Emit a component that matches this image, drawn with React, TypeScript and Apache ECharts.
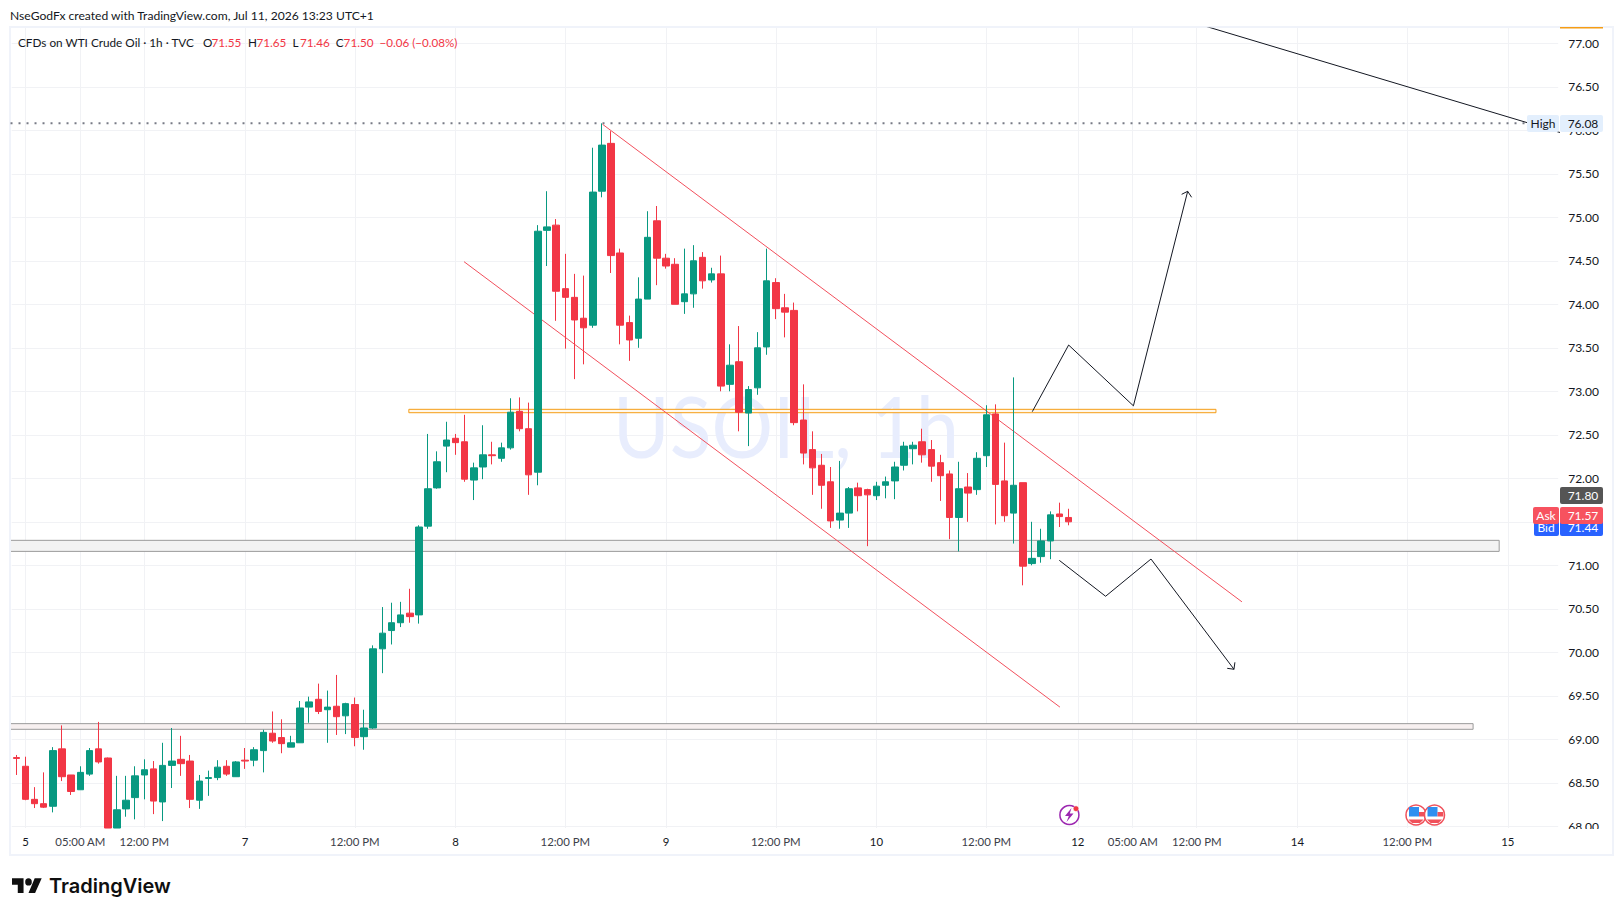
import React, { useEffect, useRef } from "react";
import * as echarts from "echarts";

const opens = [68.79,68.69,68.31,68.26,68.23,68.89,68.59,68.42,68.60,68.89,
68.785,67.98,68.20,68.33,68.59,68.66,68.28,68.70,68.77,68.75,
68.30,68.55,68.56,68.69,68.57,68.76,68.76,68.87,69.07,69.02,
68.91,68.96,69.37,69.46,69.34,69.38,69.27,69.40,69.03,69.13,
70.04,70.25,70.34,70.45,70.43,71.45,71.89,72.37,72.46,72.42,
71.98,72.13,72.27,72.23,72.35,72.77,72.57,72.07,74.85,74.91,
74.18,74.08,73.84,73.76,75.30,75.85,74.59,73.79,73.61,74.06,
74.96,74.53,74.46,74.03,74.12,74.54,74.28,74.35,73.08,73.34,
72.75,73.04,73.51,74.25,73.96,73.93,72.67,72.33,72.15,71.96,
71.52,71.60,71.89,71.87,71.80,71.92,71.97,72.15,72.34,72.42,
72.33,72.18,72.05,71.55,71.90,71.87,72.26,72.74,71.97,71.60,
71.95,71.02,71.10,71.28,71.59,71.55];
const closes = [68.78,68.31,68.26,68.22,68.87,68.57,68.40,68.62,68.87,68.74,
67.98,68.19,68.30,68.58,68.65,68.29,68.70,68.75,68.72,68.31,
68.52,68.56,68.68,68.60,68.74,68.75,68.88,69.08,68.98,68.95,
68.96,69.36,69.43,69.32,69.37,69.26,69.41,69.02,69.13,70.04,
70.22,70.34,70.43,70.41,71.44,71.88,72.19,72.44,72.41,71.99,
72.12,72.27,72.26,72.35,72.76,72.57,72.04,74.84,74.89,74.15,
74.08,73.82,73.73,75.29,75.83,74.56,73.76,73.59,74.06,74.77,
74.53,74.44,74.00,74.12,74.50,74.27,74.35,73.06,73.30,72.76,
73.02,73.50,74.27,73.95,73.91,72.64,72.29,72.12,71.92,71.51,
71.60,71.88,71.80,71.81,71.91,71.96,72.13,72.37,72.38,72.27,
72.14,72.03,71.55,71.88,71.83,72.23,72.73,71.93,71.57,71.92,
70.99,71.08,71.28,71.58,71.56,71.50];
const highs = [68.82,68.80,68.45,68.62,68.91,69.16,68.59,68.69,68.90,69.20,
68.79,68.58,68.58,68.69,68.77,68.75,68.96,69.13,69.04,68.82,
68.59,68.64,68.76,68.76,68.75,68.90,68.91,69.11,69.32,69.23,
69.04,69.44,69.49,69.64,69.56,69.74,69.42,69.48,69.34,70.08,
70.52,70.57,70.58,70.73,71.46,72.51,72.31,72.65,72.51,72.73,
72.18,72.61,72.42,72.41,72.92,72.93,72.87,74.91,75.30,74.98,
74.58,74.35,74.33,75.80,76.08,75.99,74.64,73.87,74.31,75.07,
75.13,74.58,74.53,74.64,74.68,74.60,74.42,74.56,73.54,73.75,
73.06,73.68,74.64,74.30,74.12,74.02,73.08,72.54,72.28,72.13,
72.20,71.90,71.95,71.88,71.96,72.02,72.19,72.42,72.42,72.57,
72.44,72.27,72.09,72.19,72.06,72.30,72.84,72.85,72.41,73.16,
71.95,71.50,71.42,71.62,71.72,71.65];
const lows = [68.59,68.30,68.21,68.21,68.16,68.52,68.36,68.42,68.58,68.72,
67.98,67.98,68.11,68.08,68.31,68.14,68.06,68.44,68.58,68.21,
68.20,68.35,68.53,68.58,68.57,68.66,68.69,68.62,68.96,68.84,
68.91,68.96,69.19,69.29,68.96,69.05,69.06,68.92,68.88,69.12,
69.76,70.09,70.29,70.34,70.33,71.42,71.88,72.07,72.27,71.96,
71.75,71.99,72.16,72.19,72.33,72.54,71.81,71.92,74.44,73.81,
73.49,73.14,73.31,73.73,75.23,74.36,73.54,73.35,73.50,74.06,
74.22,74.41,74.00,73.89,73.96,74.18,74.25,73.00,73.00,72.54,
72.37,72.96,73.42,73.83,73.62,72.61,72.16,71.81,71.65,71.43,
71.42,71.43,71.62,71.22,71.75,71.77,71.76,72.09,72.16,72.18,
71.96,71.74,71.30,71.16,71.50,71.81,72.13,71.47,71.50,71.25,
70.77,71.00,71.03,71.07,71.44,71.46];

const slotCount = 169;
const tickIndex = [1,7,14,25,37,48,60,71,83,94,106,116,122,129,140,152,163];
const tickLabels = ["5","05:00 AM","12:00 PM","7","12:00 PM","8","12:00 PM","9","12:00 PM","10","12:00 PM","12","05:00 AM","12:00 PM","14","12:00 PM","15"];
const dateTicks = ["5","7","8","9","10","12","14","15"];
const priceTicks = [68,68.5,69,69.5,70,70.5,71,71.5,72,72.5,73,73.5,74,74.5,75,75.5,76,76.5,77];

const highLevel = 76.08;
const highLine = [[-5,highLevel],[165.1,highLevel]];
const channelUpper = [[64.06,76.07],[133.94,70.58]];
const channelLower = [[48.93,74.49],[114.05,69.37]];
const pathUp = [[111.03,72.766],[115.0,73.532],[122.08,72.833],[128.01,75.299]];
const arrowUp = [[127.35,75.264],[128.01,75.299],[128.44,75.23]];
const pathDown = [[113.98,71.057],[119.04,70.644],[124.0,71.072],[133.07,69.805]];
const arrowDown = [[132.33,69.816],[133.07,69.805],[133.17,69.885]];
const topTrend = [[128.26,77.25],[169.8,75.94]];
// [x0, x1, priceTop, priceBottom]
const zones = [
  [42.9,131.1,72.793,72.754],
  [-5,162.05,71.287,71.16],
  [-5,159.2,69.18,69.115],
];
const zoneFill = ["#fff8ec","#f3f3f3","#f7f0f0"];
const zoneStroke = ["#f59d16","#9a9a9a","#9a9a9a"];

const FONT = 'Lato, "Open Sans", sans-serif';
const GREEN = "#089981";
const RED = "#f23645";
const INK = "#131722";

const txt = (text: string, x: number, y: number, fill = INK, size = 12, align = "left", extra: any = {}) => ({
  type: "text",
  x, y, z: 200,
  silent: true,
  style: { text, fill, font: `${size}px ${FONT}`, textAlign: align, textVerticalAlign: "middle", ...extra },
});
const box = (x: number, y: number, w: number, h: number, fill: string, z = 150) => ({
  type: "rect", z, silent: true,
  shape: { x, y, width: w, height: h, r: 2 },
  style: { fill },
});

function flag(cx: number, cy: number) {
  return [
    { type: "circle", z: 120, shape: { cx, cy, r: 10 }, style: { fill: "#fff", stroke: "#f0505a", lineWidth: 1.5 } },
    { type: "rect", z: 121, shape: { x: cx - 7, y: cy - 8, width: 10, height: 9.5 }, style: { fill: "#2f8ff0" } },
    { type: "rect", z: 121, shape: { x: cx + 3, y: cy - 3, width: 5.8, height: 4.5 }, style: { fill: "#f0505a" } },
    { type: "polygon", z: 121, shape: { points: [[cx - 7.6, cy + 4.5], [cx + 7.6, cy + 4.5], [cx + 4, cy + 8], [cx - 4, cy + 8]] }, style: { fill: "#f0505a" } },
  ];
}

const buildOption = (): any => {
  const band = 1546.5 / slotCount;
  const lineSeries = (data: number[][], color: string, width = 1, type: any = "solid") => ({
    type: "line",
    xAxisIndex: 1,
    data,
    symbol: "none",
    silent: true,
    z: 3,
    lineStyle: { color, width, type, cap: "butt" },
  });
  return {
    animation: false,
    backgroundColor: "#ffffff",
    textStyle: { fontFamily: FONT },
    grid: { left: 11.7, top: 28, width: band * slotCount, height: 800, containLabel: false },
    xAxis: [
      {
        type: "category",
        data: Array.from({ length: slotCount }, (_, i) => String(i)),
        show: false,
      },
      {
        type: "value",
        min: -0.5,
        max: slotCount - 0.5,
        position: "bottom",
        axisLine: { show: false },
        axisTick: { show: false, customValues: tickIndex },
        splitLine: { show: true, lineStyle: { color: "#f1f2f5", width: 1 } },
        axisLabel: {
          show: true,
          customValues: tickIndex,
          margin: 8,
          fontSize: 11.4,
          fontFamily: FONT,
          hideOverlap: false,
          showMinLabel: true,
          showMaxLabel: true,
          formatter: (v: number) => tickLabels[tickIndex.indexOf(v)] ?? "",
          color: (_v: any, i: number) => (dateTicks.includes(tickLabels[i]) ? INK : "#3c4049"),
        },
      },
    ],
    yAxis: {
      type: "value",
      min: 67.9805,
      max: 77.176,
      position: "right",
      axisLine: { show: false },
      axisTick: { show: false, customValues: priceTicks },
      splitLine: { show: true, lineStyle: { color: "#f1f2f5", width: 1 } },
      axisLabel: {
        customValues: priceTicks,
        margin: 10,
        fontSize: 12,
        fontFamily: FONT,
        color: INK,
        padding: [2, 0, 0, 0],
        hideOverlap: false,
        showMinLabel: true,
        showMaxLabel: true,
        formatter: (v: number) => v.toFixed(2),
      },
    },
    series: [
      {
        type: "custom",
        xAxisIndex: 1,
        z: 2,
        clip: true,
        silent: true,
        data: zones.map((zone, i) => [...zone, i]),
        renderItem: (_p: any, api: any) => {
          const a = api.coord([api.value(0), api.value(2)]);
          const b = api.coord([api.value(1), api.value(3)]);
          const i = api.value(4);
          return {
            type: "rect",
            shape: { x: a[0], y: a[1], width: b[0] - a[0], height: b[1] - a[1] },
            style: { fill: zoneFill[i], stroke: zoneStroke[i], lineWidth: 1 },
          };
        },
      },
      lineSeries(highLine, "#787b86", 2, [2, 6]),
      lineSeries(channelUpper, "#f2505d"),
      lineSeries(channelLower, "#f2505d"),
      lineSeries(pathUp, INK),
      lineSeries(arrowUp, INK),
      lineSeries(pathDown, INK),
      lineSeries(arrowDown, INK),
      lineSeries(topTrend, INK),
      {
        type: "candlestick",
        xAxisIndex: 0,
        z: 5,
        barWidth: 7,
        silent: true,
        data: opens.map((o, i) => [o, closes[i], lows[i], highs[i]]),
        itemStyle: { color: GREEN, color0: RED, borderColor: GREEN, borderColor0: RED, borderWidth: 1 },
      },
    ],
    graphic: [
      { type: "rect", z: -1, silent: true, shape: { x: 10, y: 27, width: 1603, height: 828 }, style: { fill: "none", stroke: "#f0f3fa", lineWidth: 2 } },
      {
        type: "text", z: 1, silent: true, x: 786, y: 425, scaleY: 1.1,
        style: { text: "USOIL, 1h", fill: "#e8edfd", font: `77px ${FONT}`, textAlign: "center", textVerticalAlign: "middle" },
      },
      // clip of the price scale's bottom label
      { type: "rect", z: 100, silent: true, shape: { x: 1562, y: 829, width: 48, height: 24 }, style: { fill: "#fff" } },
      { type: "rect", z: 100, silent: true, shape: { x: 1560, y: 27, width: 43, height: 1.5 }, style: { fill: "#f59d16" } },
      txt("NseGodFx created with TradingView.com, Jul 11, 2026 13:23 UTC+1", 10, 15, INK, 12.1),
      txt("CFDs on WTI Crude Oil · 1h · TVC", 18, 42, INK, 11.75),
      txt("O", 203, 42, INK, 11.7),
      txt("71.55", 211.4, 42, RED, 11.7),
      txt("H", 248, 42, INK, 11.7),
      txt("71.65", 256.4, 42, RED, 11.7),
      txt("L", 292.5, 42, INK, 11.7),
      txt("71.46", 300, 42, RED, 11.7),
      txt("C", 335.7, 42, INK, 11.7),
      txt("71.50", 343.6, 42, RED, 11.7),
      txt("−0.06 (−0.08%)", 379.6, 42, RED, 11.6),
      box(1527, 115, 32, 17, "#e3effd"),
      txt("High", 1543, 123, INK, 12, "center"),
      box(1560, 115, 43, 17, "#e3effd"),
      txt("76.08", 1583, 123, INK, 12, "center"),
      box(1560, 487, 43, 17, "#555555"),
      txt("71.80", 1583, 495, "#ffffff", 12, "center"),
      box(1534, 519, 25, 17, "#2962ff", 150),
      box(1560, 519, 43, 17, "#2962ff", 150),
      txt("Bid", 1546, 527, "#ffffff", 12, "center"),
      txt("71.44", 1583, 527, "#ffffff", 12, "center"),
      box(1533, 507, 26, 17, "#f7525f", 205),
      box(1560, 507, 43, 17, "#f7525f", 205),
      { ...txt("Ask", 1546, 515, "#ffffff", 12, "center"), z: 210 },
      { ...txt("71.57", 1583, 515, "#ffffff", 12, "center"), z: 210 },
      // events
      { type: "arc", z: 120, silent: true, shape: { cx: 1069.4, cy: 815, r: 9.5, startAngle: 0, endAngle: Math.PI * 2 }, style: { stroke: "#9c27b0", fill: "none", lineWidth: 1.5 } },
      { type: "polygon", z: 121, silent: true, shape: { points: [[1071.5, 808], [1065, 816], [1068.8, 816], [1066.5, 822], [1073.5, 813.5], [1069.8, 813.5]] }, style: { fill: "#9c27b0" } },
      { type: "circle", z: 122, silent: true, shape: { cx: 1076, cy: 808.7, r: 2.8 }, style: { fill: "#f23645", stroke: "#fff", lineWidth: 0.5 } },
      ...flag(1416, 815),
      ...flag(1434.5, 815),
      // logo
      { type: "tvlogo", z: 120, silent: true, x: 12, y: 872.6, scaleX: 0.825, scaleY: 0.93, style: { fill: "#0f0f0f" } },
      txt("TradingView", 49, 886, "#0f0f0f", 20, "left", { font: `600 20px Inter, ${FONT}` }),
    ],
  };
};

export default function App() {
  const ref = useRef<HTMLDivElement>(null);
  useEffect(() => {
    document.body.style.margin = "0";
    document.body.style.background = "#fff";
    echarts.graphic.registerShape(
      "tvlogo",
      echarts.graphic.extendPath(
        "M14 6H0v7h7v9h7V6z M28 22h-8l7.5-16H36l-8 16z M16 10a4 4 0 1 0 8 0a4 4 0 1 0 -8 0z",
        {}
      )
    );
    const chart = echarts.init(ref.current!, undefined, { renderer: "svg" });
    chart.setOption(buildOption());
    return () => chart.dispose();
  }, []);
  return <div ref={ref} style={{ position: "fixed", left: 0, top: 0, width: 1623, height: 916 }} />;
}
